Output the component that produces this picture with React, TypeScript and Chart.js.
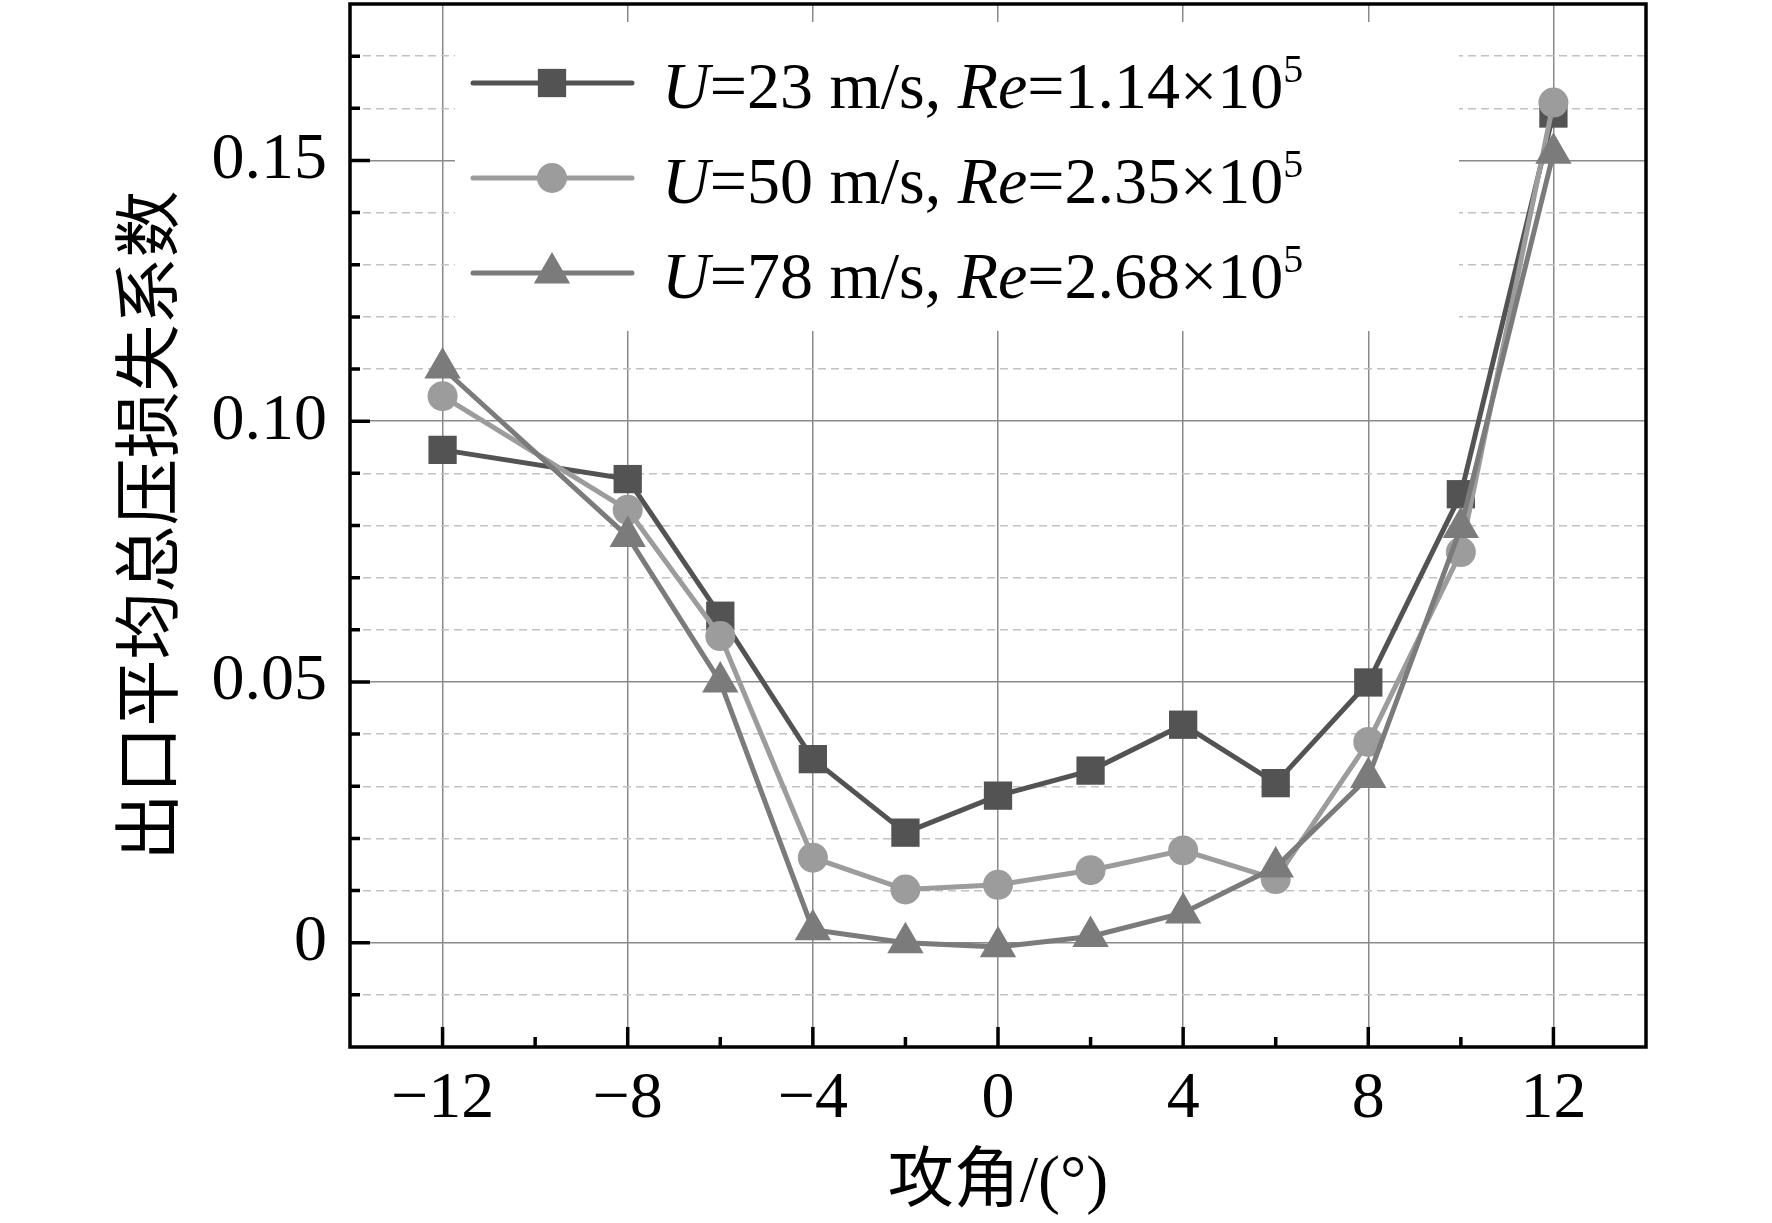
import { useEffect, useRef } from "react";
import { Chart, registerables } from "chart.js";

Chart.register(...registerables);

// angle of attack (deg)
const angles = [-12, -8, -6, -4, -2, 0, 2, 4, 6, 8, 10, 12];
// outlet mean total pressure loss coefficient
const loss23 = [0.0945, 0.0889, 0.0627, 0.0352, 0.0211, 0.0282, 0.0330, 0.0418, 0.0306, 0.0499, 0.0860, 0.1590];
const loss50 = [0.1048, 0.0830, 0.0588, 0.0163, 0.0102, 0.0111, 0.0139, 0.0177, 0.0122, 0.0385, 0.0749, 0.1611];
const loss78 = [0.1102, 0.0779, 0.0500, 0.0025, 0.0000, -0.0008, 0.0012, 0.0057, 0.0145, 0.0317, 0.0796, 0.1514];

const speeds = ["23", "50", "78"];
const reynolds = ["1.14", "2.35", "2.68"];

const xTickLabels = [-12, -8, -4, 0, 4, 8, 12];
const yTickLabels = [0, 0.05, 0.1, 0.15];

const SERIF = '"Liberation Serif", "Times New Roman", "Noto Sans CJK SC", serif';
const colors = ["#535353", "#9c9c9c", "#7b7b7b"];
const markers = ["rect", "circle", "triangle"];
const radii = [20, 15, 21];

function isYMajor(v: number) {
  return yTickLabels.some((t) => Math.abs(t - v) < 1e-6);
}

function marker(ctx: CanvasRenderingContext2D, style: string, x: number, y: number, r: number) {
  ctx.beginPath();
  if (style === "rect") {
    const s = r * Math.SQRT1_2;
    ctx.rect(x - s, y - s, 2 * s, 2 * s);
  } else if (style === "circle") {
    ctx.arc(x, y, r, 0, Math.PI * 2);
  } else {
    ctx.moveTo(x, y - r);
    ctx.lineTo(x + r * 0.866, y + r * 0.5);
    ctx.lineTo(x - r * 0.866, y + r * 0.5);
    ctx.closePath();
  }
  ctx.fill();
}

// legend box inside the plot, inward tick marks and the frame
const framePlugin = {
  id: "frame",
  beforeDatasetsDraw(chart: any) {
    const { ctx, chartArea: a } = chart;
    ctx.save();
    ctx.fillStyle = "#fff";
    ctx.fillRect(a.left + 105, a.top + 18, 1004, 309);

    chart.data.datasets.forEach((ds: any, i: number) => {
      const y = a.top + 79 + i * 95;
      ctx.strokeStyle = ds.borderColor;
      ctx.lineWidth = 5;
      ctx.lineCap = "round";
      ctx.beginPath();
      ctx.moveTo(a.left + 123, y);
      ctx.lineTo(a.left + 282, y);
      ctx.stroke();
      ctx.fillStyle = ds.borderColor;
      marker(ctx, markers[i], a.left + 202, y, radii[i]);

      const parts: [string, string, number][] = [
        ["U", "italic 66px " + SERIF, 0],
        ["=" + speeds[i] + " m/s, ", "66px " + SERIF, 0],
        ["Re", "italic 66px " + SERIF, 0],
        ["=" + reynolds[i] + "\u00d710", "66px " + SERIF, 0],
        ["5", "40px " + SERIF, -26],
      ];
      let x = a.left + 312;
      ctx.fillStyle = "#000";
      ctx.textBaseline = "alphabetic";
      ctx.textAlign = "left";
      for (const [t, f, dy] of parts) {
        ctx.font = f;
        ctx.fillText(t, x, y + 25 + dy);
        x += ctx.measureText(t).width;
      }
    });
    ctx.restore();
  },
  afterDraw(chart: any) {
    const { ctx, chartArea: a, scales } = chart;
    ctx.save();
    ctx.strokeStyle = "#000";
    ctx.lineWidth = 3.5;
    ctx.lineCap = "butt";
    ctx.beginPath();
    scales.x.ticks.forEach((t: any) => {
      const px = scales.x.getPixelForValue(t.value);
      if (px <= a.left + 1 || px >= a.right - 1) return;
      const len = t.value % 4 === 0 ? 20 : 10;
      ctx.moveTo(px, a.bottom);
      ctx.lineTo(px, a.bottom - len);
    });
    scales.y.ticks.forEach((t: any) => {
      const py = scales.y.getPixelForValue(t.value);
      if (py <= a.top + 1 || py >= a.bottom - 1) return;
      const len = isYMajor(t.value) ? 20 : 10;
      ctx.moveTo(a.left, py);
      ctx.lineTo(a.left + len, py);
    });
    ctx.stroke();
    ctx.strokeRect(a.left, a.top, a.right - a.left, a.bottom - a.top);
    ctx.restore();
  },
};

export default function App() {
  const canvasRef = useRef<HTMLCanvasElement>(null);

  useEffect(() => {
    if (!canvasRef.current) return;

    const series = [loss23, loss50, loss78];
    const chart = new Chart(canvasRef.current, {
      type: "line",
      data: {
        datasets: series.map((vals, i) => ({
          label: "U=" + speeds[i] + " m/s, Re=" + reynolds[i] + "\u00d710^5",
          data: angles.map((a, j) => ({ x: a, y: vals[j] })),
          borderColor: colors[i],
          backgroundColor: colors[i],
          borderWidth: 5,
          pointStyle: markers[i] as any,
          pointRadius: radii[i],
          pointBorderWidth: 0,
          pointBackgroundColor: colors[i],
          tension: 0,
          order: 2 - i,
        })),
      },
      options: {
        animation: false,
        responsive: true,
        maintainAspectRatio: false,
        layout: { autoPadding: false, padding: { top: 4, right: 126, left: 0, bottom: 0 } },
        plugins: { legend: { display: false }, tooltip: { enabled: false } },
        scales: {
          x: {
            type: "linear",
            min: -14,
            max: 14,
            afterFit: (s: any) => {
              s.height = 176;
              s.paddingLeft = 0;
              s.paddingRight = 0;
            },
            ticks: {
              stepSize: 2,
              autoSkip: false,
              maxRotation: 0,
              padding: 13,
              color: "#000",
              font: { family: SERIF, size: 66 },
              callback: (v: any) =>
                xTickLabels.includes(v) ? (v < 0 ? "\u2212" : "") + Math.abs(v) : "",
            },
            grid: {
              drawTicks: false,
              lineWidth: 1.5,
              color: (c: any) =>
                c.tick && xTickLabels.includes(c.tick.value) ? "#8a8a8a" : "rgba(0,0,0,0)",
            },
            border: { display: false },
            title: {
              display: true,
              text: "攻角/(°)",
              color: "#000",
              font: { family: SERIF, size: 66, lineHeight: 1 },
              padding: { top: 0, bottom: 6 },
            },
          },
          y: {
            type: "linear",
            min: -0.02,
            max: 0.18,
            afterFit: (s: any) => {
              s.width = 350;
              s.paddingTop = 0;
              s.paddingBottom = 0;
            },
            ticks: {
              stepSize: 0.01,
              autoSkip: false,
              padding: 23,
              color: "#000",
              font: (c: any) => ({
                family: SERIF,
                size: c.tick && isYMajor(c.tick.value) ? 66 : 2,
              }),
              callback: (v: any) => {
                if (!isYMajor(v)) return "";
                const r = Math.round(v * 100);
                return r === 0 ? "0" : (r / 100).toFixed(2);
              },
            },
            grid: {
              drawTicks: false,
              lineWidth: 1.5,
              color: (c: any) => (c.tick && isYMajor(c.tick.value) ? "#8a8a8a" : "#c2c2c2"),
            },
            border: {
              display: false,
              dash: (c: any) => (c.tick && isYMajor(c.tick.value) ? [] : [8, 5]),
            },
            title: {
              display: true,
              text: "出口平均总压损失系数",
              color: "#000",
              font: { family: SERIF, size: 67, lineHeight: 1 },
              padding: { top: 121, bottom: 0 },
            },
          },
        },
      },
      plugins: [framePlugin],
    });

    return () => chart.destroy();
  }, []);

  return (
    <div style={{ position: "fixed", left: 0, top: 0, width: 1772, height: 1223, background: "#fff" }}>
      <canvas ref={canvasRef}></canvas>
    </div>
  );
}
